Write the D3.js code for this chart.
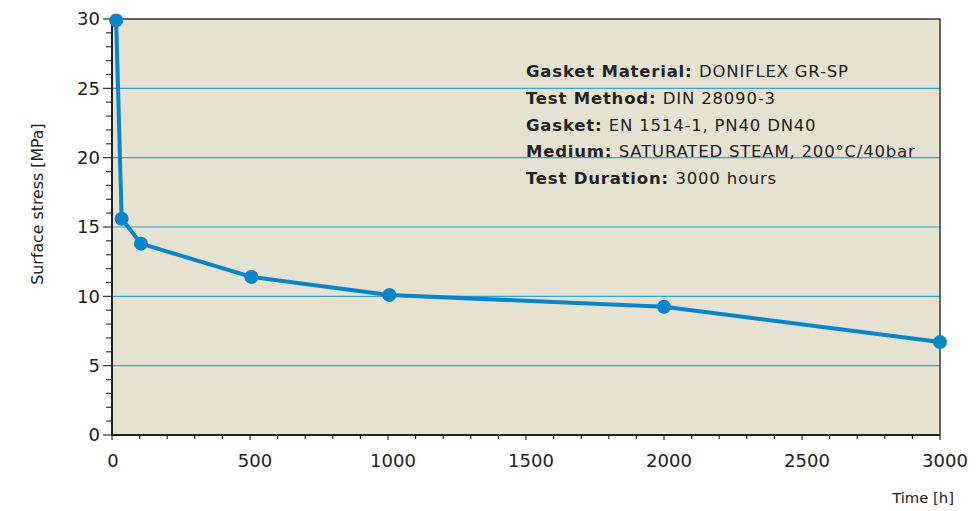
<!DOCTYPE html>
<html><head><meta charset="utf-8">
<script src="https://cdn.jsdelivr.net/npm/d3@7/dist/d3.min.js"></script>
<style>
body{margin:0;background:#fff;}
text{font-family:"DejaVu Sans",sans-serif;fill:#222;}
</style></head><body>
<svg id="c" width="979" height="511"></svg>
<script>
const timeH = [15, 35, 105, 505, 1005, 2000, 3000];
const stressMPa = [29.9, 15.6, 13.8, 11.4, 10.1, 9.25, 6.7];
const xTicks = [0, 500, 1000, 1500, 2000, 2500, 3000];
const yTicks = [0, 5, 10, 15, 20, 25, 30];
const infoLabels = ["Gasket Material:", "Test Method:", "Gasket:", "Medium:", "Test Duration:"];
const infoValues = ["DONIFLEX GR-SP", "DIN 28090-3", "EN 1514-1, PN40 DN40", "SATURATED STEAM, 200°C/40bar", "3000 hours"];

const m = {l:112, t:19, r:940, b:435};
const svg = d3.select("#c");
const x = d3.scaleLinear().domain([0,3000]).range([m.l, m.r]);
const y = d3.scaleLinear().domain([0,30]).range([m.b, m.t]);

svg.append("rect").attr("x",m.l).attr("y",m.t).attr("width",m.r-m.l).attr("height",m.b-m.t).attr("fill","#e6e2d1");

// gridlines
svg.append("g").selectAll("line").data(yTicks.filter(d=>d>0&&d<30)).join("line")
  .attr("x1",m.l).attr("x2",m.r).attr("y1",d=>y(d)).attr("y2",d=>y(d))
  .attr("stroke","#3fa3d6").attr("stroke-width",1.2);

// border top/right
svg.append("path").attr("d",`M${m.l},${m.t}H${m.r}V${m.b}`).attr("fill","none").attr("stroke","#3a3a3a").attr("stroke-width",1.5);

// minor ticks
const yMinor = d3.range(0,31,1);
svg.append("g").selectAll("line").data(yMinor).join("line")
  .attr("x1",d=>d%5===0? m.l-9 : m.l-6).attr("x2",m.l).attr("y1",d=>y(d)).attr("y2",d=>y(d))
  .attr("stroke","#333").attr("stroke-width",1.2);
const xMinor = d3.range(0,3001,100);
svg.append("g").selectAll("line").data(xMinor).join("line")
  .attr("y1",m.b).attr("y2",d=>d%500===0? m.b+5 : m.b+4).attr("x1",d=>x(d)).attr("x2",d=>x(d))
  .attr("stroke","#333").attr("stroke-width",1.2);

// axis lines
svg.append("line").attr("x1",m.l).attr("x2",m.l).attr("y1",m.t).attr("y2",m.b+1).attr("stroke","#222").attr("stroke-width",2);
svg.append("line").attr("x1",m.l-1).attr("x2",m.r).attr("y1",m.b).attr("y2",m.b).attr("stroke","#222").attr("stroke-width",2);

// tick labels
svg.append("g").selectAll("text").data(yTicks).join("text")
  .attr("x",m.l-12).attr("y",d=>y(d)).attr("dy","0.36em").attr("text-anchor","end")
  .attr("font-size",18).text(d=>d);
svg.append("g").selectAll("text").data(xTicks).join("text")
  .attr("x",d=>x(d)).attr("dx",d=>d===0?1:5).attr("y",m.b+32).attr("text-anchor","middle")
  .attr("font-size",18).text(d=>d);

// axis titles
svg.append("text").attr("transform","translate(43,204) rotate(-90)").attr("text-anchor","middle")
  .attr("font-size",15.8).text("Surface stress [MPa]");
svg.append("text").attr("x",954).attr("y",503).attr("text-anchor","end").attr("font-size",14.8).text("Time [h]");

// line & points
const data = timeH.map((t,i)=>({t, v:stressMPa[i]}));
svg.append("path").datum(data).attr("fill","none").attr("stroke","#0a85c9").attr("stroke-width",4)
  .attr("stroke-linejoin","round")
  .attr("d", d3.line().x(d=>x(d.t)).y(d=>y(d.v)));
svg.append("g").selectAll("circle").data(data).join("circle")
  .attr("cx",d=>x(d.t)).attr("cy",d=>y(d.v)).attr("r",7).attr("fill","#0a85c9");

// info text
const info = svg.append("g");
infoLabels.forEach((lab,i)=>{
  const t = info.append("text").attr("x",526).attr("y",77+i*26.8).attr("font-size",16.5)
    .attr("letter-spacing",0.8);
  t.append("tspan").attr("font-weight","bold").text(lab+" ");
  t.append("tspan").text(infoValues[i]);
});
</script></body></html>
